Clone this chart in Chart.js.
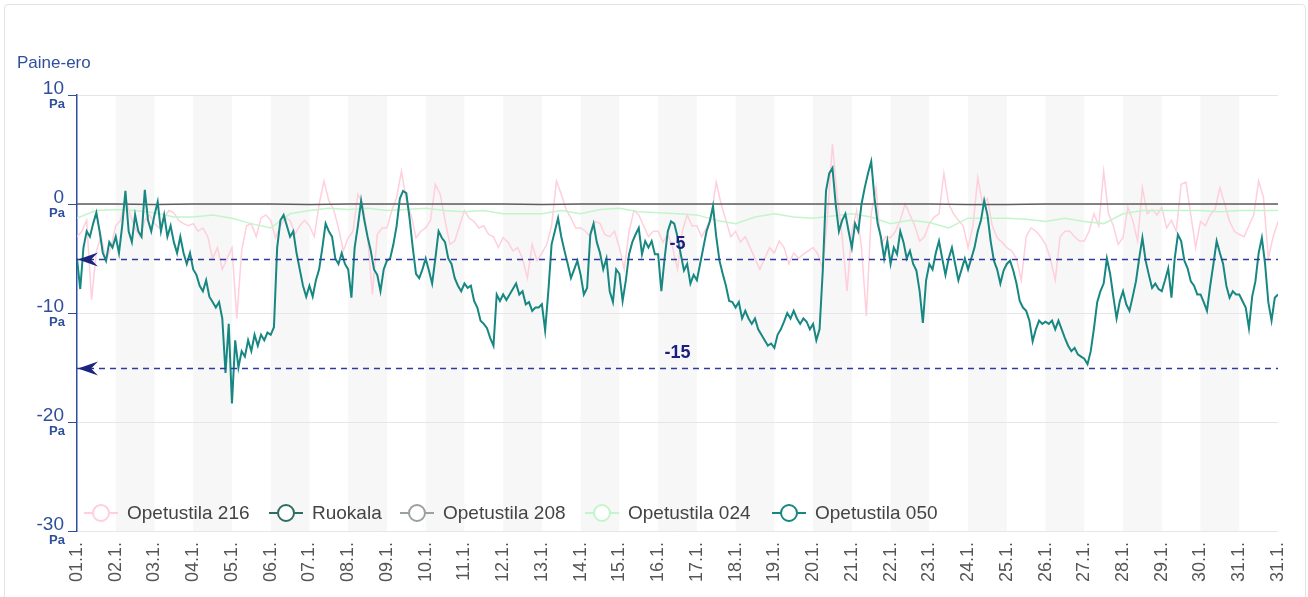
<!DOCTYPE html>
<html>
<head>
<meta charset="utf-8">
<title>Paine-ero</title>
<script src="https://cdn.jsdelivr.net/npm/chart.js@4.4.1/dist/chart.umd.min.js"></script>
<style>
  html, body { margin: 0; padding: 0; background: #fff; }
  #card { position: absolute; left: 4px; top: 4px; width: 1300px; height: 600px; border: 1px solid #e3e3e3; border-radius: 4px; }
  #wrap { position: absolute; left: 0; top: 0; width: 1308px; height: 597px; }
</style>
</head>
<body>
<div id="card"></div>
<div id="wrap"><canvas id="chart" width="1308" height="597"></canvas></div>
<script>
// Data

const dayLabels = ['01.1.', '02.1.', '03.1.', '04.1.', '05.1.', '06.1.', '07.1.', '08.1.', '09.1.', '10.1.',
    '11.1.', '12.1.', '13.1.', '14.1.', '15.1.', '16.1.', '17.1.', '18.1.', '19.1.', '20.1.',
    '21.1.', '22.1.', '23.1.', '24.1.', '25.1.', '26.1.', '27.1.', '28.1.', '29.1.', '30.1.',
    '31.1.', '31.1.'];

const seriesNames = ['Opetustila 216', 'Ruokala', 'Opetustila 208', 'Opetustila 024', 'Opetustila 050'];

const yTicks = [10, 0, -10, -20, -30];

// limit lines (Pa)
const limitLines = [-5, -15];

// Opetustila 050, 12 readings per day (every 2 h)
const room050 = [
    -5, -7.8, -4, -2.5, -3, -1.8, -0.8, -2.5, -4.5, -5.2, -3.5, -4,
    -3, -4.5, -2, 1.2, -2.5, -3.5, -1, -2.5, -3, 1.3, -1.5, -2.5,
    -1, 0.2, -2.5, -1, -3, -2, -3.5, -4.5, -3, -4.5, -5.5, -4.5,
    -6, -6.5, -7.5, -8, -7, -8.5, -9, -9.5, -9, -10.5, -15.5, -11,
    -18.3, -12.5, -15, -13.5, -14, -12.5, -13.5, -12, -13, -12, -12.5, -11.8,
    -12, -11.3, -4, -1.5, -1, -2, -3, -2.5, -4.5, -6, -7.5, -8.5,
    -7.5, -8.5, -7, -6, -4, -1.8, -2.5, -3, -5, -5.5, -4.5, -5.5,
    -6, -8.6, -4, -2, 0.3, -1.5, -3, -4.3, -6, -6.5, -8, -6,
    -5.2, -5, -3.7, -2, 0.5, 1.2, 1, -1.3, -4, -6.4, -6.8, -6,
    -5, -6.1, -7.3, -5, -2.5, -3.1, -3.5, -5, -5.5, -6.8, -7.5, -8,
    -7.3, -7.7, -7.5, -8.9, -9.5, -10.7, -11, -11.4, -12.3, -13, -8.3, -8.9,
    -8.3, -8.8, -8.3, -7.8, -7.3, -8.3, -8, -9.2, -9, -9.8, -9.5, -9.5,
    -9.2, -11.6, -8, -3.7, -2.5, -1.3, -3, -4.3, -5.5, -6.8, -6, -5.2,
    -6.5, -8.3, -7.7, -2.8, -1.8, -3.5, -4.5, -6, -5, -8, -9, -6,
    -6.4, -8.9, -7, -4.6, -3.5, -2.8, -2.2, -4.6, -3.4, -4, -3.4, -4.6,
    -4.6, -8, -5, -2.5, -1.6, -1.8, -3, -4.6, -6.1, -5.5, -7.3, -6.5,
    -7, -5.5, -4, -2.5, -1.6, -0.2, -3, -5.2, -6.4, -7.5, -8.9, -9,
    -9.5, -9, -10.5, -9.8, -10.5, -11, -10.5, -11.5, -12, -12.5, -13, -12.8,
    -13.2, -12, -11.5, -10.8, -10, -10.5, -9.8, -10.5, -11, -10.5, -10.8, -11.5,
    -11, -12.5, -11.5, -6.1, 1.2, 2.8, 3.3, 0, -2.5, -1.5, -0.9, -2.5,
    -4, -1.8, -2.5, 0, 1.5, 2.8, 3.9, 0.6, -1.8, -3, -5, -3.4,
    -5.5, -4, -4.6, -2.5, -3.5, -5, -4.3, -5.5, -6.1, -8, -10.9, -7,
    -5.5, -6, -4.5, -3.4, -5, -6.5, -5, -4, -5.5, -7, -6, -5,
    -6, -5, -4, -2.5, -1.5, 0.3, -1, -3.4, -5.2, -6, -7.3, -6.1,
    -5.5, -5.2, -6.1, -7.3, -8.9, -9.5, -9.8, -10.7, -12.6, -11.5, -10.7, -11,
    -10.8, -11, -10.7, -11.5, -10.7, -11.5, -12.3, -13, -13.5, -13.2, -13.8, -14,
    -14.2, -14.7, -13.5, -11.4, -9, -8, -7.3, -5, -6.4, -8.5, -10.5, -8.9,
    -8, -9.2, -9.8, -8.5, -7.1, -5, -3.1, -5.2, -6.5, -7.7, -7.3, -7.8,
    -8, -7, -5.9, -8.6, -5, -2.8, -3.4, -5.2, -5.9, -7.1, -7.5, -8.3,
    -8.3, -9, -9.8, -7.5, -5.5, -3.4, -4.5, -5.5, -7.5, -8.6, -8, -8.3,
    -8.3, -8.9, -9.5, -11.4, -8.5, -7.1, -4.5, -3.1, -5.5, -9, -10.7, -8.6,
    -8.3
];

// Opetustila 216, 8 readings per day (every 3 h)
const room216 = [
    -3, -2.5, -1.5, -8.8, -4.3, -3, -5.2, -4,
    -2, -1.5, 0.6, -1, -2.2, -3, -1.5, -1,
    -1.8, -2.2, -1.2, -0.6, -0.8, -1.5, -1.8, -2,
    -1.8, -2.5, -2.2, -3, -5, -4, -6, -5,
    -4, -10.5, -4.3, -2, -1.8, -3, -1.3, -1,
    -1.5, -3.1, -2, -1.3, -1.5, -2.8, -2, -1.5,
    -2, -3, 0, 2.1, 0.3, -0.5, -2.2, -4.3,
    -3.1, -2.5, 0.9, 0, -3, -8.3, -2.8, -2.2,
    -2.2, -0.6, 0.6, 3, 0.3, -1, -3.1, -2.5,
    -2.2, -1.5, 1.8, 0.9, -1.5, -3.7, -3.4, -2,
    -0.6, -1.3, -1.6, -2.2, -2, -2.8, -3, -4,
    -3.1, -3.5, -4.3, -4, -5, -6.8, -3.7, -5.2,
    -4.5, -3.7, -2, 2.1, 0.9, -0.5, -1.3, -2.2,
    -2.2, -2.5, -3, -1.6, -1.8, -2.8, -3, -2.5,
    -4, -6, -2.5, -0.6, -1, -2, -3, -2.5,
    -2.5, -3.5, -2.8, -4, -6, -2.5, -1, -2,
    -2, -3, -2.2, -1, 2, 0, -1.5, -3,
    -2.5, -3.5, -3, -4, -5, -6, -5, -4,
    -4.5, -3.4, -4, -5.5, -4.5, -5, -4.6, -4.3,
    -4, -4.6, -6, -1, 5.5, 0.6, -3, -8,
    -2.5, -0.6, -4, -10.3, -0.9, 1.5, -3.7, -3,
    -3.1, -2.5, -1.5, 0, -1, -2, -3.4, -3,
    -1.8, -1.2, -0.9, 2.8, 0, -0.9, -1.5, -2,
    -4, -2, 2.4, 0, 0.5, -2, -3.1, -3.5,
    -4, -4.3, -5, -7, -3, -2.2, -2.5, -3,
    -3.7, -5, -7, -3, -2.5, -2.5, -3, -3.4,
    -3.4, -2.5, -0.9, -2, 3, -0.9, -2, -3.7,
    -3.1, -0.3, -1.5, -3.4, 1.5, -0.9, -0.5, -1,
    -0.3, -2.2, -1.5, -2.5, 1.8, 2, -1, -4,
    -1.6, -2, -1, -0.5, 1.5, 0, -1.6, -2.5,
    -2.8, -3, -2, -1, 2.1, 0.6, -5, -3,
    -1.6
];

// Opetustila 024, 2 readings per day
const room024 = [
    -1.3, -0.6, -0.5, -0.6, -0.8, -1.2, -1.2, -1.0, -1.3, -1.8,
    -2.2, -0.9, -0.6, -0.4, -0.5, -0.4, -0.6, -0.5, -0.4, -0.6,
    -0.7, -0.6, -0.9, -0.9, -0.9, -0.6, -0.9, -0.5, -0.4, -0.7,
    -0.8, -0.9, -1.0, -1.5, -1.8, -1.2, -0.9, -1.2, -1.3, -1.1,
    -0.9, -1.2, -1.8, -1.5, -1.7, -2.2, -1.3, -1.3, -1.3, -1.4,
    -1.6, -1.3, -1.6, -1.8, -0.9, -0.6, -0.6, -0.6, -0.6, -0.7,
    -0.6, -0.6, -0.6
];

// Opetustila 208, 1 reading per day
const room208 = [
    0, 0, -0.05, 0, 0, 0, -0.05, 0, 0, 0, 0, 0, -0.05, 0, 0, 0,
    0, 0, 0, 0, 0, 0, 0, -0.05, -0.05, 0, 0, 0, 0, 0, 0, 0
];

// Ruokala: no readings this month
const ruokala = [];

const seriesColors = ['#ffcfdb', '#2f6d60', '#9aa19f', '#c2f5cc', '#178782'];

// Helpers

const FONT = '"Liberation Sans", Arial, sans-serif';

function toPoints(values, perDay) {
    return values.map((v, i) => ({ x: i / perDay, y: v }));
}

function makeSet(idx, values, perDay, width, order) {
    return {
        label: seriesNames[idx],
        data: toPoints(values, perDay),
        borderColor: seriesColors[idx],
        backgroundColor: seriesColors[idx],
        borderWidth: width,
        pointRadius: 0,
        tension: 0,
        order: order
    };
}

// Plugin: day bands, limit lines, axis texts, legend

const decorPlugin = {
    id: 'decor',
    beforeDraw(chart) {
        const { ctx, chartArea, scales } = chart;
        ctx.save();
        ctx.fillStyle = '#f7f7f7';
        for (let d = 1; d < 31; d += 2) {
            const x1 = scales.x.getPixelForValue(d);
            const x2 = scales.x.getPixelForValue(d + 1);
            ctx.fillRect(x1, chartArea.top, x2 - x1, chartArea.bottom - chartArea.top);
        }
        ctx.restore();
    },
    afterDatasetsDraw(chart) {
        const { ctx, chartArea, scales } = chart;
        ctx.save();
        limitLines.forEach(v => {
            const py = Math.round(scales.y.getPixelForValue(v)) + 0.5;
            ctx.strokeStyle = '#2f3b9c';
            ctx.lineWidth = 1.4;
            ctx.setLineDash([6, 5]);
            ctx.beginPath();
            ctx.moveTo(chartArea.left, py);
            ctx.lineTo(chartArea.right, py);
            ctx.stroke();
            ctx.setLineDash([]);

            // arrow at the axis
            ctx.fillStyle = '#1b2580';
            ctx.beginPath();
            ctx.moveTo(chartArea.left + 1, py);
            ctx.lineTo(chartArea.left + 21, py - 7);
            ctx.lineTo(chartArea.left + 14, py);
            ctx.lineTo(chartArea.left + 21, py + 7);
            ctx.closePath();
            ctx.fill();

            ctx.fillStyle = '#1c1f80';
            ctx.font = 'bold 18px ' + FONT;
            ctx.textAlign = 'center';
            ctx.textBaseline = 'alphabetic';
            ctx.fillText(String(v), (chartArea.left + chartArea.right) / 2, py - 11);
        });
        ctx.restore();
    },
    afterDraw(chart) {
        const { ctx, scales } = chart;
        ctx.save();

        // axis title
        ctx.fillStyle = '#2f4f9d';
        ctx.font = '17px ' + FONT;
        ctx.textAlign = 'left';
        ctx.textBaseline = 'alphabetic';
        ctx.fillText('Paine-ero', 17, 68);

        // y tick labels
        yTicks.forEach(v => {
            const py = scales.y.getPixelForValue(v);
            ctx.textAlign = 'right';
            ctx.font = '19px ' + FONT;
            ctx.fillText(String(v), 64, py - 1);
            ctx.font = 'bold 13px ' + FONT;
            ctx.fillText('Pa', 65, py + 13);
        });

        // legend
        const textX = [127, 312, 443, 628, 815];
        const ly = 513;
        ctx.font = '19px ' + FONT;
        ctx.textAlign = 'left';
        ctx.textBaseline = 'middle';
        seriesNames.forEach((name, i) => {
            const cx = textX[i] - 26;
            ctx.strokeStyle = seriesColors[i];
            ctx.lineWidth = 2;
            ctx.beginPath();
            ctx.moveTo(cx - 17, ly);
            ctx.lineTo(cx + 17, ly);
            ctx.stroke();
            ctx.fillStyle = '#fff';
            ctx.beginPath();
            ctx.arc(cx, ly, 8, 0, Math.PI * 2);
            ctx.fill();
            ctx.stroke();
            ctx.fillStyle = '#444';
            ctx.fillText(name, textX[i], ly + 1);
        });
        ctx.restore();
    }
};

// Chart

const chart = new Chart(document.getElementById('chart'), {
    type: 'line',
    data: {
        datasets: [
            makeSet(4, room050, 12, 2, 0),
            makeSet(2, room208, 1, 1.5, 1),
            makeSet(1, ruokala, 1, 1.5, 2),
            makeSet(3, room024, 2, 1.5, 3),
            makeSet(0, room216, 8, 1.5, 4)
        ]
    },
    options: {
        responsive: false,
        animation: false,
        layout: { padding: { top: 95, right: 30, left: 0, bottom: 0 } },
        plugins: {
            legend: { display: false },
            tooltip: { enabled: false }
        },
        scales: {
            x: {
                type: 'linear',
                min: 0,
                max: 31,
                grid: { display: false },
                border: { display: false },
                ticks: {
                    stepSize: 1,
                    autoSkip: false,
                    maxRotation: 90,
                    minRotation: 90,
                    padding: 3,
                    color: '#555',
                    font: { family: FONT, size: 18 },
                    callback: (v) => dayLabels[v]
                },
                afterFit: (s) => { s.height = 66; }
            },
            y: {
                min: -30,
                max: 10,
                ticks: { stepSize: 10, display: false },
                grid: { color: '#e6e6e6', tickColor: '#2d4fa3', tickLength: 9 },
                border: { color: '#2d4fa3', width: 1.5 },
                afterFit: (s) => { s.width = 77; }
            }
        }
    },
    plugins: [decorPlugin]
});
// 208 line sits at zero, draw it a bit darker than its legend colour
chart.data.datasets[1].borderColor = '#5e5e5e';
chart.update();
</script>
</body>
</html>
